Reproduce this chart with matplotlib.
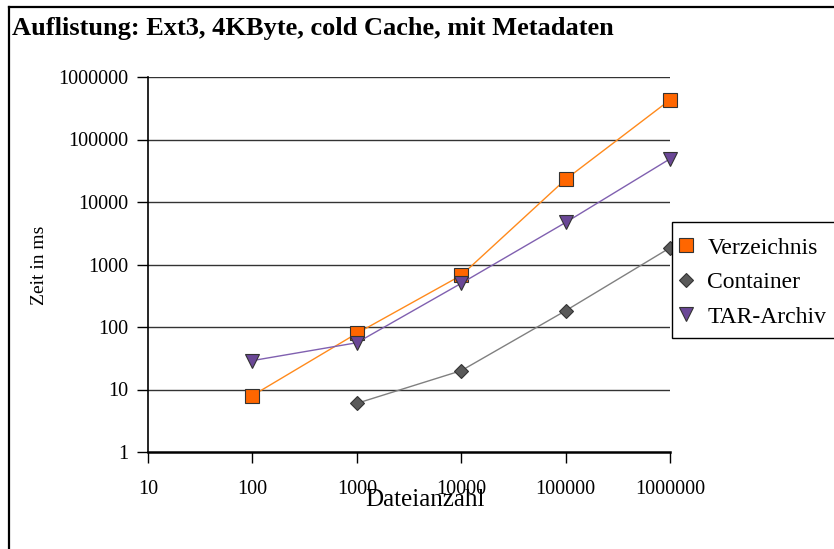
import numpy as np
import matplotlib
matplotlib.use("Agg")
import matplotlib.pyplot as plt
from matplotlib.lines import Line2D
from matplotlib.patches import Rectangle

plt.rcParams['font.family'] = ['Liberation Serif', 'DejaVu Serif']

# file counts and listing times (ms)
dateianzahl = [10, 100, 1000, 10000, 100000, 1000000]
verzeichnis_n = [100, 1000, 10000, 100000, 1000000]
verzeichnis_ms = [8, 79, 670, 23000, 430000]
container_n = [1000, 10000, 100000, 1000000]
container_ms = [6, 20, 182, 1850]
tar_n = [100, 1000, 10000, 100000, 1000000]
tar_ms = [29, 56, 500, 4700, 49000]
y_ticks = [1, 10, 100, 1000, 10000, 100000, 1000000]

W, H = 834, 549
fig = plt.figure(figsize=(W / 100, H / 100), dpi=100)

def fx(px):
    return px / W

def fy(py):
    return 1 - py / H

# frame around the chart (only left and top edges are visible)
fig.add_artist(Line2D([fx(9), fx(9)], [fy(7), 0], color='black', lw=1.6))
fig.add_artist(Line2D([fx(9), 1], [fy(7), fy(7)], color='black', lw=1.6))

ax = fig.add_axes([fx(148), fy(452), fx(670) - fx(148), fy(77) - fy(452)])
ax.set_xscale('log')
ax.set_yscale('log')
ax.set_xlim(10, 1000000)
ax.set_ylim(1, 1000000)

for v in y_ticks[1:]:
    ax.axhline(v, color='#333333', lw=1.0, zorder=1)

ax.plot(verzeichnis_n, verzeichnis_ms, color='#ff8a1c', lw=1.0, marker='s', markersize=9.5,
        markerfacecolor='#ff6600', markeredgecolor='#333333', markeredgewidth=0.8,
        label='Verzeichnis', zorder=3, clip_on=False)
ax.plot(container_n, container_ms, color='#808080', lw=1.0, marker='D', markersize=7,
        markerfacecolor='#595959', markeredgecolor='#333333', markeredgewidth=0.8,
        label='Container', zorder=3, clip_on=False)
ax.plot(tar_n, tar_ms, color='#8060b0', lw=1.0, marker='v', markersize=10,
        markerfacecolor='#6a4796', markeredgecolor='#333333', markeredgewidth=0.8,
        label='TAR-Archiv', zorder=3, clip_on=False)

ax.spines['top'].set_visible(False)
ax.spines['right'].set_visible(False)
ax.spines['left'].set_linewidth(1.2)
ax.spines['bottom'].set_linewidth(1.8)

ax.set_xticks(dateianzahl)
ax.set_xticklabels([str(v) for v in dateianzahl])
ax.set_yticks(y_ticks)
ax.set_yticklabels([str(v) for v in y_ticks])
ax.minorticks_off()
ax.tick_params(axis='both', direction='out', length=8, width=1.0, color='black',
               labelsize=14.5, pad=6)
ax.tick_params(axis='x', pad=12)

fig.text(fx(425), fy(500), 'Dateianzahl', ha='center', va='center', fontsize=18)
fig.text(fx(40), fy(265), 'Zeit in ms', ha='center', va='center', rotation=90, fontsize=14)
fig.text(fx(12), fy(29), 'Auflistung: Ext3, 4KByte, cold Cache, mit Metadaten',
         ha='left', va='center', fontsize=19, fontweight='bold')

# legend box runs past the right edge, so draw the frame separately
fig.add_artist(Rectangle((fx(672), fy(338)), fx(900) - fx(672), fy(222) - fy(338),
                         transform=fig.transFigure, facecolor='white',
                         edgecolor='black', lw=1.0, zorder=4))
handles, labels = ax.get_legend_handles_labels()
leg = fig.legend(handles, labels, loc='upper left',
                 bbox_to_anchor=(fx(672), fy(230)), bbox_transform=fig.transFigure,
                 frameon=False, fontsize=17, handlelength=0.6, handletextpad=0.6,
                 borderpad=0.3, labelspacing=0.55, borderaxespad=0)
leg.set_zorder(5)
for h in leg.legend_handles:
    h.set_linestyle('none')

fig.savefig('out.png', dpi=100)
